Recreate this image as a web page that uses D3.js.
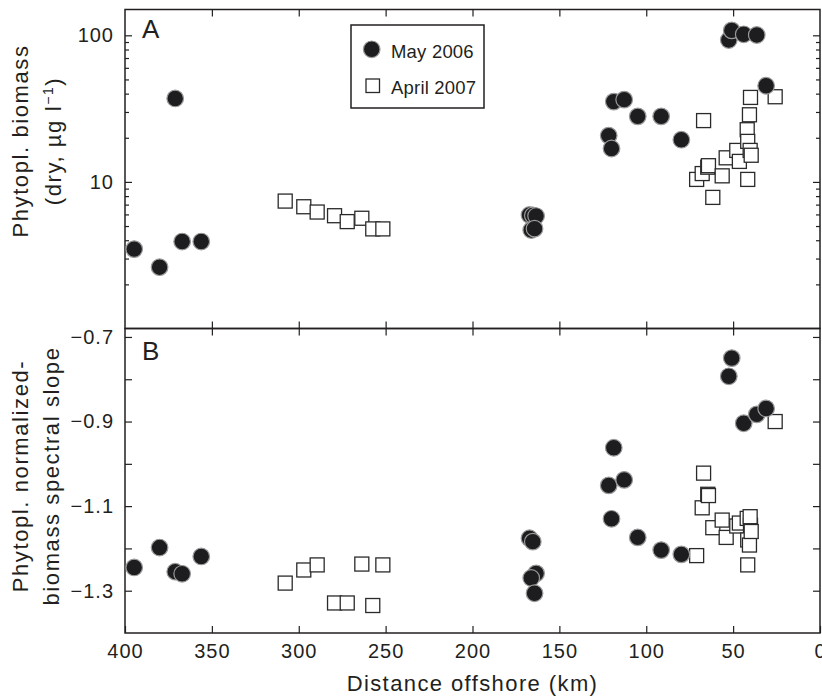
<!DOCTYPE html>
<html><head><meta charset="utf-8">
<script src="https://cdn.jsdelivr.net/npm/d3@7"></script>
<style>
body{margin:0;background:#fff}
svg text{font-family:"Liberation Sans",Arial,Helvetica,sans-serif;fill:#231f20}
</style>
</head><body>
<svg id="chart" width="822" height="698"></svg>
<script>
// ---- tick labels ----
const distanceTicks = [400, 350, 300, 250, 200, 150, 100, 50, 0];
const distanceInnerTicks = [350, 300, 250, 200, 150, 100, 50];
const biomassMajorTicks = [10, 100];
const biomassMinorTicks = [2, 3, 4, 5, 6, 7, 8, 9, 20, 30, 40, 50, 60, 70, 80, 90];
const slopeTicks = [-0.7, -0.8, -0.9, -1.0, -1.1, -1.2, -1.3];
const slopeLabelTicks = [-0.7, -0.9, -1.1, -1.3];

// ---- series: May 2006 (filled circles) ----
const mayDistance = [394.7, 380.1, 371.1, 367.1, 356.1,
  167.2, 165.3, 163.4, 166.2, 164.3,
  121.6, 120.0, 118.7, 112.7, 104.9, 91.4, 79.8,
  52.5, 50.8, 43.9, 36.4, 31.0];
const mayBiomass = [3.48, 2.62, 37.1, 3.92, 3.92,
  5.95, 5.9, 5.85, 4.7, 4.8,
  20.7, 16.9, 35.3, 36.4, 28.0, 28.0, 19.4,
  92.9, 108, 101.6, 100.5, 45.3];
const maySlope = [-1.245, -1.198, -1.255, -1.260, -1.219,
  -1.176, -1.184, -1.259, -1.270, -1.306,
  -1.051, -1.130, -0.962, -1.038, -1.174, -1.204, -1.214,
  -0.793, -0.750, -0.904, -0.883, -0.869];

// ---- series: April 2007 (open squares) ----
const aprDistance = [307.8, 297.1, 289.4, 279.4, 272.1, 263.7, 257.4, 251.6,
  71.0, 67.8, 67.0, 64.6, 64.2, 61.7, 56.3, 54.0, 47.9, 46.4,
  41.9, 41.6, 41.6, 40.6, 40.0, 40.2, 39.6, 25.8];
const aprBiomass = [7.40, 6.77, 6.23, 5.88, 5.36, 5.65, 4.78, 4.78,
  10.4, 11.4, 26.2, 12.6, 12.9, 7.84, 11.0, 14.6, 16.4, 13.8,
  22.7, 18.9, 10.4, 28.7, 37.7, 16.4, 15.2, 38.1];
const aprSlope = [-1.282, -1.251, -1.239, -1.329, -1.329, -1.237, -1.335, -1.239,
  -1.217, -1.104, -1.022, -1.072, -1.075, -1.151, -1.133, -1.174, -1.147, -1.140,
  -1.129, -1.180, -1.239, -1.192, -1.145, -1.125, -1.160, -0.900];

const seriesNames = ["May 2006", "April 2007"];

// ---- layout ----
const L = 125, R = 820;
const aTop = 9.5, aBot = 328.5, bTop = 328.5, bBot = 633;
const ink = "#231f20";

const svg = d3.select("#chart");
const x = d3.scaleLinear().domain([400, 0]).range([L, R]);
const yA = d3.scaleLog().domain([1, 150]).range([aBot, aTop]);
const yB = d3.scaleLinear().domain([-1.4, -0.68]).range([bBot, bTop]);

function styleAxis(g, fontSize, ls) {
  g.select(".domain").remove();
  g.selectAll(".tick line").attr("stroke", ink).attr("stroke-width", 1.2);
  g.selectAll(".tick text").attr("font-size", fontSize).attr("letter-spacing", ls)
    .attr("fill", ink).attr("font-family", '"Liberation Sans", Arial, sans-serif');
}

// ---- Panel A axes ----
const minusFmt = d => d3.format(".1f")(d).replace("-", "\u2212");
styleAxis(svg.append("g").attr("transform", `translate(0,${aTop})`)
  .call(d3.axisTop(x).tickValues(distanceInnerTicks).tickSize(-7).tickFormat("")), 0, 0);
styleAxis(svg.append("g").attr("transform", `translate(0,${aBot})`)
  .call(d3.axisBottom(x).tickValues(distanceInnerTicks).tickSize(-7).tickFormat("")), 0, 0);
styleAxis(svg.append("g").attr("transform", `translate(${L},0)`)
  .call(d3.axisLeft(yA).tickValues(biomassMajorTicks).tickSize(-7).tickPadding(11).tickFormat(d3.format("d"))), 20, 1);
styleAxis(svg.append("g").attr("transform", `translate(${L},0)`)
  .call(d3.axisLeft(yA).tickValues(biomassMinorTicks).tickSize(-4).tickFormat("")), 0, 0);
styleAxis(svg.append("g").attr("transform", `translate(${R},0)`)
  .call(d3.axisRight(yA).tickValues(biomassMajorTicks).tickSize(-7).tickFormat("")), 0, 0);
styleAxis(svg.append("g").attr("transform", `translate(${R},0)`)
  .call(d3.axisRight(yA).tickValues(biomassMinorTicks).tickSize(-4).tickFormat("")), 0, 0);

// ---- Panel B axes ----
styleAxis(svg.append("g").attr("transform", `translate(0,${bTop})`)
  .call(d3.axisTop(x).tickValues(distanceInnerTicks).tickSize(-7).tickFormat("")), 0, 0);
styleAxis(svg.append("g").attr("transform", `translate(0,${bBot})`)
  .call(d3.axisBottom(x).tickValues(distanceTicks).tickSize(-7).tickPadding(11).tickFormat(d3.format("d"))), 20, 1);
styleAxis(svg.append("g").attr("transform", `translate(${L},0)`)
  .call(d3.axisLeft(yB).tickValues(slopeTicks).tickSize(-7).tickPadding(11)
    .tickFormat(d => slopeLabelTicks.some(v => Math.abs(v - d) < 1e-9) ? minusFmt(d) : "")), 20, 1);
styleAxis(svg.append("g").attr("transform", `translate(${R},0)`)
  .call(d3.axisRight(yB).tickValues(slopeTicks).tickSize(-7).tickFormat("")), 0, 0);

// ---- frames ----
svg.append("rect").attr("x", L).attr("y", aTop).attr("width", R - L).attr("height", aBot - aTop)
  .attr("fill", "none").attr("stroke", ink).attr("stroke-width", 1.5);
svg.append("rect").attr("x", L).attr("y", bTop).attr("width", R - L).attr("height", bBot - bTop)
  .attr("fill", "none").attr("stroke", ink).attr("stroke-width", 1.5);

// ---- data marks ----
const aprData = aprDistance.map((d, i) => ({d, b: aprBiomass[i], s: aprSlope[i]}));
const mayData = mayDistance.map((d, i) => ({d, b: mayBiomass[i], s: maySlope[i]}));
const sq = 14, cr = 8.3;

function squares(g, yScale, key) {
  g.selectAll("rect.pt").data(aprData).join("rect").attr("class", "pt")
    .attr("x", p => x(p.d) - sq / 2).attr("y", p => yScale(p[key]) - sq / 2)
    .attr("width", sq).attr("height", sq)
    .attr("fill", "#fff").attr("stroke", "#2a2a2a").attr("stroke-width", 1.3);
}
function circles(g, yScale, key) {
  g.selectAll("circle.pt").data(mayData).join("circle").attr("class", "pt")
    .attr("cx", p => x(p.d)).attr("cy", p => yScale(p[key])).attr("r", cr)
    .attr("fill", "#1d1d20").attr("stroke", "#9a9a9a").attr("stroke-width", 1.2);
}
const gA = svg.append("g"), gB = svg.append("g");
squares(gA, yA, "b"); circles(gA, yA, "b");
squares(gB, yB, "s"); circles(gB, yB, "s");

// ---- panel letters ----
svg.append("text").attr("x", 142).attr("y", 38.3).attr("font-size", 26).text("A");
svg.append("text").attr("x", 142).attr("y", 360).attr("font-size", 26).text("B");

// ---- legend ----
const lg = svg.append("g");
lg.append("rect").attr("x", 351).attr("y", 25).attr("width", 133).attr("height", 83)
  .attr("fill", "#fff").attr("stroke", ink).attr("stroke-width", 1.5);
lg.append("circle").attr("cx", 371.7).attr("cy", 49.3).attr("r", cr)
  .attr("fill", "#1d1d20").attr("stroke", "#9a9a9a").attr("stroke-width", 1.2);
lg.append("rect").attr("x", 366).attr("y", 79).attr("width", 13.5).attr("height", 13.5)
  .attr("fill", "#fff").attr("stroke", "#2a2a2a").attr("stroke-width", 1.3);
lg.append("text").attr("x", 391).attr("y", 57.7).attr("font-size", 18.5).attr("letter-spacing", 0.2).text(seriesNames[0]);
lg.append("text").attr("x", 391).attr("y", 94).attr("font-size", 18.5).attr("letter-spacing", 0.2).text(seriesNames[1]);

// ---- axis titles ----
svg.append("text").attr("x", (L + R) / 2).attr("y", 691).attr("text-anchor", "middle")
  .attr("font-size", 22).attr("letter-spacing", 1.4).text("Distance offshore (km)");

function yTitle(cy, lines, baselines) {
  lines.forEach((ln, i) => {
    const t = svg.append("text").attr("transform", `translate(${baselines[i]},${cy}) rotate(-90)`)
      .attr("text-anchor", "middle").attr("font-size", 22).attr("letter-spacing", 1.6);
    ln.forEach(part => {
      const ts = t.append("tspan").text(part.t);
      if (part.sup) ts.attr("font-size", 14).attr("baseline-shift", "super");
    });
  });
}
yTitle(141, [[{t: "Phytopl. biomass"}], [{t: "(dry, \u00b5g l"}, {t: "\u22121", sup: true}, {t: ")"}]], [28.3, 61]);
yTitle(476, [[{t: "Phytopl. normalized-"}], [{t: "biomass spectral slope"}]], [28.3, 59]);
</script>
</body></html>
